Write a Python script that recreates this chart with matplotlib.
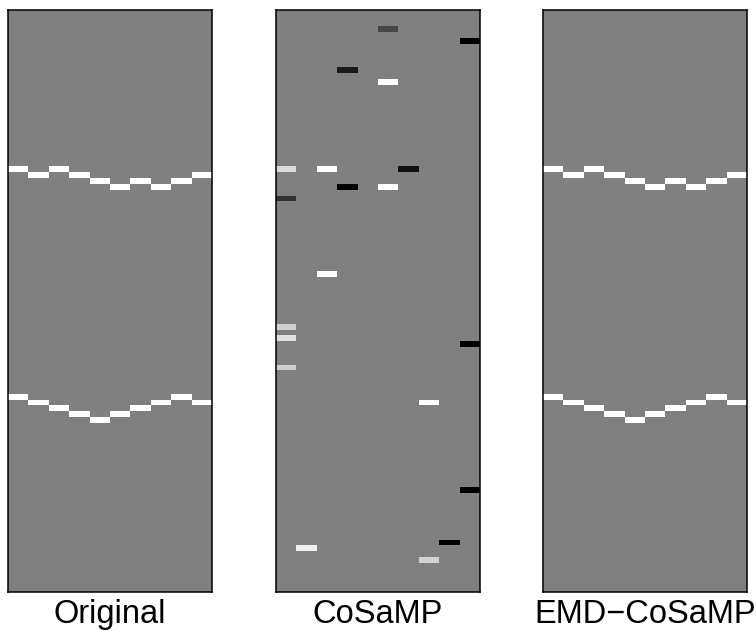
import numpy as np
import matplotlib
matplotlib.use("Agg")
import matplotlib.pyplot as plt

plt.rcParams['font.family'] = ['Liberation Sans', 'DejaVu Sans']

n_rows = 100
n_cols = 10

# original signal: two wavy lines, one row index per column
orig_upper = [27, 28, 27, 28, 29, 30, 29, 30, 29, 28]
orig_lower = [66, 67, 68, 69, 70, 69, 68, 67, 66, 67]

# EMD-CoSaMP recovers the same support
emd_upper = [27, 28, 27, 28, 29, 30, 29, 30, 29, 28]
emd_lower = [66, 67, 68, 69, 70, 69, 68, 67, 66, 67]

# CoSaMP recovery: scattered nonzeros (row, column, value in [-1, 1])
cosamp_rows = [3, 5, 10, 12, 27, 27, 27, 30, 30, 32, 45, 54, 56, 57, 61, 67, 82, 91, 92, 94]
cosamp_cols = [5, 9, 3, 5, 0, 2, 6, 3, 5, 0, 2, 0, 0, 9, 0, 7, 9, 8, 1, 7]
cosamp_vals = [-0.44, -1.0, -0.8, 1.0, 0.72, 1.0, -0.87, -0.97, 1.0, -0.6,
               1.0, 0.63, 0.75, -1.0, 0.62, 1.0, -1.0, -1.0, 0.88, 0.65]

titles = ["Original", "CoSaMP", "EMD\u2212CoSaMP"]


def line_matrix(upper, lower):
    m = np.zeros((n_rows, n_cols))
    for c in range(n_cols):
        m[upper[c], c] = 1.0
        m[lower[c], c] = 1.0
    return m


def sparse_matrix(rows, cols, vals):
    m = np.zeros((n_rows, n_cols))
    for r, c, v in zip(rows, cols, vals):
        m[r, c] = v
    return m


mats = [line_matrix(orig_upper, orig_lower),
        sparse_matrix(cosamp_rows, cosamp_cols, cosamp_vals),
        line_matrix(emd_upper, emd_lower)]

fig = plt.figure(figsize=(7.56, 6.30), dpi=100)

lefts = [7.5 / 756, 275.7 / 756, 543.2 / 756]
width = 204 / 756
bottom = 38 / 630
height = 582.5 / 630

for left, m, title in zip(lefts, mats, titles):
    ax = fig.add_axes([left, bottom, width, height])
    ax.imshow(m, cmap='gray', vmin=-1, vmax=1, aspect='auto',
              interpolation='nearest', extent=[0, n_cols, n_rows, 0])
    ax.set_xticks([])
    ax.set_yticks([])
    for s in ax.spines.values():
        s.set_linewidth(1.1)
        s.set_color('black')
    ax.text(0.5, -0.053, title, transform=ax.transAxes, ha='center',
            va='baseline', fontsize=23.5)

fig.savefig("out.png", dpi=100)
